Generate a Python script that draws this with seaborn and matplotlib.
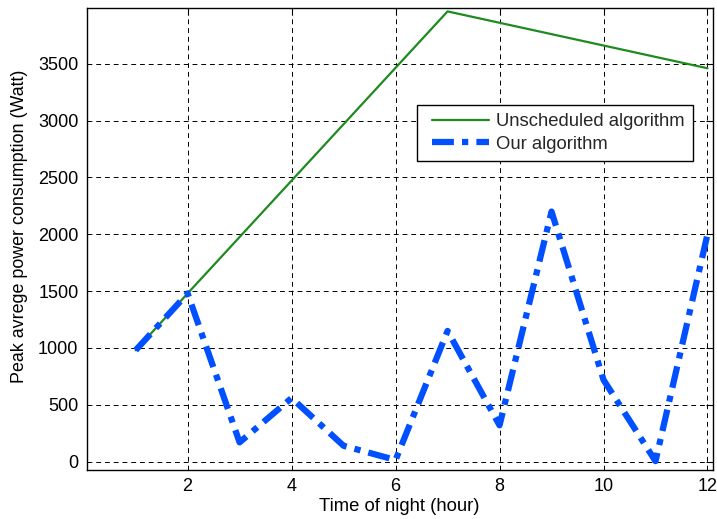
import matplotlib
matplotlib.use("Agg")
import matplotlib.pyplot as plt
from matplotlib.legend_handler import HandlerLine2D
import seaborn as sns
import pandas as pd

hours = [1, 2, 3, 4, 5, 6, 7, 8, 9, 10, 11, 12]
unscheduled = [980, 1480, 1976, 2472, 2968, 3464, 3960, 3860, 3760, 3660, 3560, 3460]
ours = [980, 1480, 170, 560, 140, 15, 1150, 320, 2200, 720, 5, 2000]
series_names = ["Unscheduled algorithm", "Our algorithm"]
x_ticks = [2, 4, 6, 8, 10, 12]
y_ticks = [0, 500, 1000, 1500, 2000, 2500, 3000, 3500]

sns.set_theme(style="white")
plt.rcParams['font.family'] = ['Liberation Sans', 'DejaVu Sans']

df = pd.DataFrame({
    "hour": hours + hours,
    "value": unscheduled + ours,
    "series": [series_names[0]] * len(hours) + [series_names[1]] * len(hours),
})

fig = plt.figure(figsize=(7.17, 5.19), dpi=100)
ax = fig.add_axes([0.121, 0.0944, 0.873, 0.8902])

sns.lineplot(data=df[df.series == series_names[0]], x="hour", y="value",
             color="#1f8a1f", linewidth=1.6, ax=ax, label=series_names[0])
sns.lineplot(data=df[df.series == series_names[1]], x="hour", y="value",
             color="#0050ff", linewidth=4.5, ax=ax, label=series_names[1])
dash = (0, (3.5, 1.3, 1.0, 1.3))
lines = ax.get_lines()
lines[1].set_linestyle(dash)
lines[1].set_dash_capstyle("butt")

ax.set_xlim(0.06, 12.1)
ax.set_ylim(-73, 3990)
ax.set_xticks(x_ticks)
ax.set_yticks(y_ticks)
ax.grid(True, color="black", linestyle=(0, (5, 4)), linewidth=0.7)
ax.tick_params(direction="in", top=True, right=True, length=5, width=0.8,
               labelsize=13, colors="black", pad=6)
for s in ax.spines.values():
    s.set_color("black")
    s.set_linewidth(1.0)

ax.set_xlabel("Time of night (hour)", fontsize=13.3, color="black", labelpad=2)
ax.set_ylabel("Peak avrege power consumption (Watt)", fontsize=12.9, color="black",
              labelpad=7, y=0.527)

hm = {l: HandlerLine2D(xpad=0.35) for l in lines[:2]}
leg = ax.legend(handles=lines[:2], labels=series_names, handler_map=hm,
                loc="upper right", bbox_to_anchor=(0.968, 0.790), borderaxespad=0,
                fontsize=13.3, handlelength=3.43, handletextpad=0.38, frameon=True,
                fancybox=False, framealpha=1, edgecolor="black", borderpad=0.45,
                labelspacing=0.3)
leg.get_frame().set_linewidth(1.0)

fig.savefig("out.png", dpi=100)
